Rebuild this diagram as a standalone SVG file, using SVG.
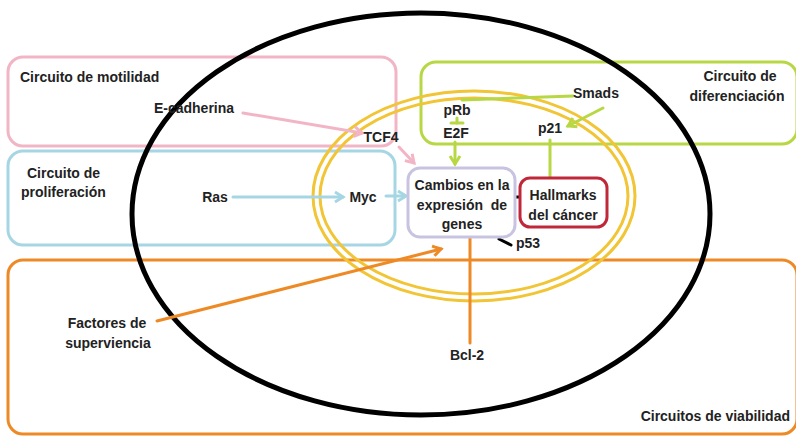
<svg xmlns="http://www.w3.org/2000/svg" width="796" height="436" viewBox="0 0 796 436">
  <style>
    text { font-family: "Liberation Sans", Arial, sans-serif; font-size: 14px; font-weight: bold; fill: #222; }
    .mid { text-anchor: middle; }
    .end { text-anchor: end; }
    .box { fill: none; stroke-width: 3; }
    .pink { stroke: #f2b5c6; }
    .blue { stroke: #a6d6e4; }
    .green { stroke: #b7d844; }
    .orange { stroke: #ee8a26; }
    .link { fill: none; stroke-width: 3; stroke-linecap: round; }
    .ring { fill: none; stroke: #f1c535; stroke-width: 3; }
  </style>
  <defs>
    <marker id="arPink" viewBox="-2 -2 14 14" refX="8" refY="5" markerWidth="14" markerHeight="14" markerUnits="userSpaceOnUse" orient="auto">
      <path d="M0,0 L8,5 L0,10" fill="none" stroke="#f2b5c6" stroke-width="3"/>
    </marker>
    <marker id="arBlue" viewBox="-2 -2 14 14" refX="8" refY="5" markerWidth="14" markerHeight="14" markerUnits="userSpaceOnUse" orient="auto">
      <path d="M0,0 L8,5 L0,10" fill="none" stroke="#a6d6e4" stroke-width="3"/>
    </marker>
    <marker id="arGreen" viewBox="-2 -2 14 14" refX="8" refY="5" markerWidth="14" markerHeight="14" markerUnits="userSpaceOnUse" orient="auto">
      <path d="M0,0 L8,5 L0,10" fill="none" stroke="#b7d844" stroke-width="3"/>
    </marker>
    <marker id="arOrange" viewBox="-2 -2 14 14" refX="8" refY="5" markerWidth="14" markerHeight="14" markerUnits="userSpaceOnUse" orient="auto">
      <path d="M0,0 L8,5 L0,10" fill="none" stroke="#ee8a26" stroke-width="3"/>
    </marker>
  </defs>

  <rect width="796" height="436" fill="#ffffff"/>

  <!-- circuit regions -->
  <g id="circuito-motilidad">
    <rect class="box pink" x="8" y="57" width="388" height="89" rx="15"/>
    <text x="20" y="82">Circuito de motilidad</text>
  </g>
  <g id="circuito-proliferacion">
    <rect class="box blue" x="8" y="151" width="387" height="94" rx="15"/>
    <text x="27" y="178">Circuito de</text>
    <text x="21" y="197">proliferación</text>
  </g>
  <g id="circuito-viabilidad">
    <rect class="box orange" x="8" y="260" width="789" height="174" rx="15"/>
    <text class="end" x="790" y="421">Circuitos de viabilidad</text>
  </g>
  <g id="circuito-diferenciacion">
    <rect class="box green" x="421" y="62" width="376" height="82" rx="15"/>
    <text class="mid" x="740" y="81">Circuito de</text>
    <text class="mid" x="737" y="101">diferenciación</text>
  </g>

  <!-- cell outline and nucleus rings -->
  <g id="celula">
    <ellipse cx="421" cy="214" rx="289" ry="201" fill="none" stroke="#000" stroke-width="5"/>
  </g>
  <g id="nucleo">
    <ellipse class="ring" cx="474" cy="196" rx="161" ry="105"/>
    <ellipse class="ring" cx="474" cy="196" rx="154" ry="98"/>
  </g>

  <!-- connectors -->
  <g id="connectors">
    <line class="link" x1="243" y1="113" x2="362" y2="133" stroke="#f2b5c6" marker-end="url(#arPink)"/>
    <line class="link" x1="399" y1="147" x2="414" y2="163" stroke="#f2b5c6" marker-end="url(#arPink)"/>
    <line class="link" x1="233" y1="197" x2="343" y2="197" stroke="#a6d6e4" marker-end="url(#arBlue)"/>
    <line class="link" x1="386" y1="196" x2="406" y2="196" stroke="#a6d6e4" marker-end="url(#arBlue)"/>
    <line class="link" x1="573" y1="96" x2="462" y2="100" stroke="#b7d844"/>
    <line class="link" x1="603" y1="108" x2="568" y2="126" stroke="#b7d844" marker-end="url(#arGreen)"/>
    <line class="link" x1="457" y1="118" x2="457" y2="123" stroke="#b7d844" stroke-width="2"/>
    <line class="link" x1="451" y1="123" x2="463" y2="123" stroke="#b7d844" stroke-width="2"/>
    <line class="link" x1="455" y1="142" x2="455" y2="164" stroke="#b7d844" marker-end="url(#arGreen)"/>
    <line class="link" x1="550" y1="140" x2="550" y2="178" stroke="#b7d844" stroke-linecap="butt"/>
    <line class="link" x1="515" y1="197" x2="521" y2="197" stroke="#000" stroke-linecap="butt"/>
    <line class="link" x1="499" y1="239" x2="511" y2="245" stroke="#000"/>
    <line class="link" x1="157" y1="321" x2="441" y2="249" stroke="#ee8a26" marker-end="url(#arOrange)"/>
    <line class="link" x1="470" y1="237" x2="470" y2="343" stroke="#ee8a26" stroke-linecap="butt"/>
  </g>

  <!-- nodes -->
  <g id="e-cadherina"><text class="mid" x="194" y="113">E-cadherina</text></g>
  <g id="tcf4"><text class="mid" x="381" y="142">TCF4</text></g>
  <g id="ras"><text class="mid" x="215" y="202">Ras</text></g>
  <g id="myc"><text class="mid" x="363" y="202">Myc</text></g>
  <g id="smads"><text class="mid" x="596" y="98">Smads</text></g>
  <g id="prb"><text class="mid" x="457" y="115">pRb</text></g>
  <g id="e2f"><text class="mid" x="456" y="138">E2F</text></g>
  <g id="p21"><text class="mid" x="550" y="133">p21</text></g>
  <g id="cambios">
    <rect x="408" y="168" width="107" height="69" rx="12" fill="#fff" stroke="#c9c3e2" stroke-width="3"/>
    <text class="mid" x="462" y="190">Cambios en la</text>
    <text class="mid" x="462" y="210" xml:space="preserve">expresión  de</text>
    <text class="mid" x="462" y="229">genes</text>
  </g>
  <g id="hallmarks">
    <rect x="520" y="178" width="87" height="49" rx="10" fill="#fff" stroke="#c0283a" stroke-width="3"/>
    <text class="mid" x="563" y="200">Hallmarks</text>
    <text class="mid" x="563" y="220">del cáncer</text>
  </g>
  <g id="p53"><text class="mid" x="528" y="248">p53</text></g>
  <g id="factores">
    <text class="mid" x="107" y="328">Factores de</text>
    <text class="mid" x="108" y="348">superviencia</text>
  </g>
  <g id="bcl2"><text class="mid" x="467" y="360">Bcl-2</text></g>
</svg>
